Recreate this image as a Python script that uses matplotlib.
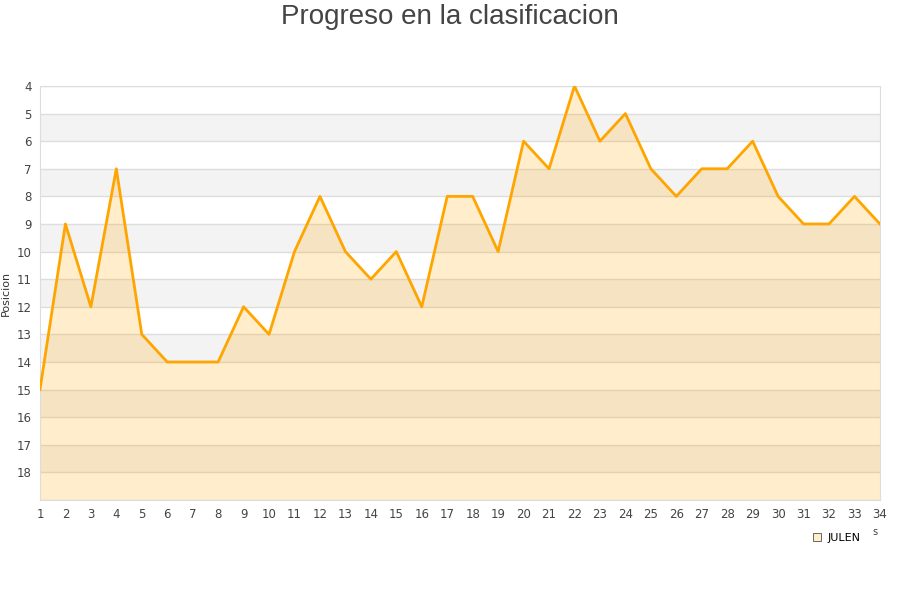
import matplotlib
matplotlib.use("Agg")
import matplotlib.pyplot as plt
from matplotlib.lines import Line2D

jornadas = list(range(1, 35))
posicion = [15, 9, 12, 7, 13, 14, 14, 14, 12, 13, 10, 8, 10, 11, 10, 12, 8, 8, 10, 6,
            7, 4, 6, 5, 7, 8, 7, 7, 6, 8, 9, 9, 8, 9]
y_ticks = list(range(4, 19))
serie = "JULEN"
titulo = "Progreso en la clasificacion"

fig = plt.figure(figsize=(9, 6), dpi=100)
ax = fig.add_axes([0.0444, 0.1667, 0.9333, 0.69])

ymin, ymax = 4, 19
# bandas alternas
for y in range(5, 19, 2):
    ax.axhspan(y, y + 1, color="#f3f3f3", zorder=0, lw=0)
for y in range(ymin, ymax + 1):
    ax.axhline(y, color="#dddddd", lw=1, zorder=1)

ax.fill_between(jornadas, posicion, ymax, color="#FFA500", alpha=0.2, lw=0, zorder=2)
ax.plot(jornadas, posicion, color="#FFA500", lw=2.0, zorder=3)

ax.set_xlim(1, 34)
ax.set_ylim(ymax, ymin)
ax.set_xticks(jornadas)
ax.set_yticks(y_ticks)
ax.tick_params(axis="both", length=0, labelsize=8.5, colors="#444444", pad=6)
for s in ax.spines.values():
    s.set_color("#dddddd")
ax.set_ylabel("Posicion", fontsize=8, color="#333333", labelpad=4)

fig.text(0.5, 0.993, titulo, ha="center", va="top", fontsize=20,
         family="Liberation Sans", color="#444444")
fig.text(0.969, 0.108, "s", fontsize=7, color="#444444")

handle = Line2D([], [], marker="s", ls="none", markersize=6,
                markerfacecolor="#FFEDCC", markeredgecolor="#666666", markeredgewidth=0.7)
fig.legend([handle], [serie], loc="center", bbox_to_anchor=(0.929, 0.103),
           frameon=False, fontsize=8, handletextpad=0.5, handlelength=1)

fig.savefig("out.png", dpi=100)
